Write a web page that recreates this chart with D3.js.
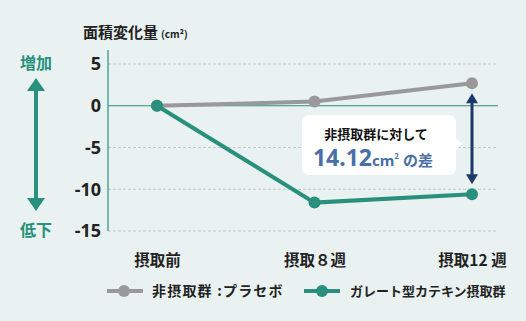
<!DOCTYPE html>
<html><head><meta charset="utf-8">
<script src="https://cdn.jsdelivr.net/npm/d3@7"></script>
<style>
html,body{margin:0;padding:0;background:#e9f2f1;}
svg{display:block;font-family:"Noto Sans CJK JP","Noto Sans",sans-serif;}
</style></head><body>
<script>
const categories = ["摂取前", "摂取８週", "摂取12 週"];
const placebo = [0, 0.5, 2.7];
const catechin = [0, -11.6, -10.6];
const yTicks = [5, 0, -5, -10, -15];
const seriesNames = ["非摂取群 :プラセボ", "ガレート型カテキン摂取群"];

const W = 526, H = 321;
const teal = "#28907c", gray = "#999999", navy = "#1d3a6b", blue = "#4a6fa8";
const svg = d3.select("body").append("svg").attr("width", W).attr("height", H);
svg.append("rect").attr("width", W).attr("height", H).attr("fill", "#e9f2f1");

const x = d3.scalePoint().domain(categories).range([157, 472]);
const y = d3.scaleLinear().domain([-15, 5]).range([231, 64]);

// grid
svg.append("g").selectAll("line").data(yTicks.filter(d => d !== 0)).join("line")
  .attr("x1", 108).attr("x2", 498).attr("y1", d => y(d)).attr("y2", d => y(d))
  .attr("stroke", "#c4c9c9").attr("stroke-width", 1).attr("stroke-dasharray", "3,2");
svg.append("line").attr("x1", 108).attr("x2", 498).attr("y1", y(0)).attr("y2", y(0))
  .attr("stroke", teal).attr("stroke-width", 1.2);

// y axis
const ya = svg.append("g").attr("transform", "translate(108,0)")
  .call(d3.axisLeft(y).tickValues(yTicks).tickSize(0).tickPadding(7).tickFormat(d => String(d)));
ya.select(".domain").remove();
ya.append("line").attr("x1", 0).attr("x2", 0).attr("y1", 50).attr("y2", 231).attr("stroke", teal).attr("stroke-width", 1.2);
ya.selectAll("text").attr("font-size", 18).attr("font-weight", "bold").attr("fill", "#222")
  .attr("font-family", "'Noto Sans','Open Sans',sans-serif");

// x axis labels
const xa = svg.append("g").attr("transform", "translate(0,255)")
  .call(d3.axisBottom(x).tickSize(0).tickPadding(0));
xa.select(".domain").remove();
xa.selectAll("text").attr("font-size", 15.5).attr("font-weight", "bold").attr("fill", "#222")
  .attr("font-family", "'Noto Sans CJK JP',sans-serif");

// title
const t = svg.append("text").attr("x", 83).attr("y", 38).attr("fill", "#222").attr("font-weight", "bold");
t.append("tspan").attr("font-size", 15).text("面積変化量");
t.append("tspan").attr("font-size", 10).attr("dx", 3).text("(cm²)");

// left arrow
svg.append("text").attr("x", 36).attr("y", 69).attr("text-anchor", "middle").attr("font-size", 16)
  .attr("font-weight", "bold").attr("fill", teal).text("増加");
svg.append("text").attr("x", 36).attr("y", 236).attr("text-anchor", "middle").attr("font-size", 16)
  .attr("font-weight", "bold").attr("fill", teal).text("低下");
svg.append("line").attr("x1", 36).attr("x2", 36).attr("y1", 88).attr("y2", 200).attr("stroke", teal).attr("stroke-width", 4);
svg.append("path").attr("d", "M36,78 L27,91 L45,91 Z").attr("fill", teal);
svg.append("path").attr("d", "M36,211 L27,198 L45,198 Z").attr("fill", teal);

// lines
const line = d3.line().x((d, i) => x(categories[i])).y(d => y(d));
svg.append("path").datum(placebo).attr("d", line).attr("fill", "none").attr("stroke", gray).attr("stroke-width", 4);
svg.append("g").selectAll("circle").data(placebo).join("circle")
  .attr("cx", (d, i) => x(categories[i])).attr("cy", d => y(d)).attr("r", 6).attr("fill", gray);
svg.append("path").datum(catechin).attr("d", line).attr("fill", "none").attr("stroke", teal).attr("stroke-width", 4);
svg.append("g").selectAll("circle").data(catechin).join("circle")
  .attr("cx", (d, i) => x(categories[i])).attr("cy", d => y(d)).attr("r", 6).attr("fill", teal);

// difference arrow
const ax = x(categories[2]);
const yTop = y(placebo[2]) + 10, yBot = y(catechin[2]) - 10;
svg.append("line").attr("x1", ax).attr("x2", ax).attr("y1", yTop + 8).attr("y2", yBot - 8).attr("stroke", navy).attr("stroke-width", 3);
svg.append("path").attr("d", `M${ax},${yTop} L${ax-6},${yTop+10} L${ax+6},${yTop+10} Z`).attr("fill", navy);
svg.append("path").attr("d", `M${ax},${yBot} L${ax-6},${yBot-10} L${ax+6},${yBot-10} Z`).attr("fill", navy);

// callout
svg.append("rect").attr("x", 302).attr("y", 115).attr("width", 154).attr("height", 60).attr("rx", 7).attr("fill", "#fff");
svg.append("path").attr("d", "M455,138 L463,144 L455,150 Z").attr("fill", "#fff");
svg.append("text").attr("x", 376).attr("y", 139).attr("text-anchor", "middle").attr("font-size", 13)
  .attr("font-weight", "bold").attr("fill", "#111").text("非摂取群に対して");
const ct = svg.append("text").attr("x", 373).attr("y", 166).attr("text-anchor", "middle").attr("font-weight", "bold").attr("fill", blue);
ct.append("tspan").attr("font-size", 23).attr("font-family", "'Noto Sans',sans-serif").text("14.12");
ct.append("tspan").attr("font-size", 15).attr("font-family", "'Noto Sans',sans-serif").text("cm");
ct.append("tspan").attr("font-size", 8).attr("dy", -7).text("2");
ct.append("tspan").attr("font-size", 15).attr("dy", 7).attr("dx", 4).text("の差");

// legend
const leg = [{c: gray, x1: 107, cx: 124, tx: 152, fs: 14, ls: 1.2}, {c: teal, x1: 304, cx: 322, tx: 350, fs: 13, ls: 0}];
leg.forEach((l, i) => {
  svg.append("line").attr("x1", l.x1).attr("x2", l.x1 + 36).attr("y1", 291).attr("y2", 291).attr("stroke", l.c).attr("stroke-width", 4);
  svg.append("circle").attr("cx", l.cx).attr("cy", 291).attr("r", 6).attr("fill", l.c);
  svg.append("text").attr("x", l.tx).attr("y", 296).attr("font-size", l.fs).attr("letter-spacing", l.ls)
    .attr("font-weight", "bold").attr("fill", "#222").text(seriesNames[i]);
});
</script>
</body></html>
